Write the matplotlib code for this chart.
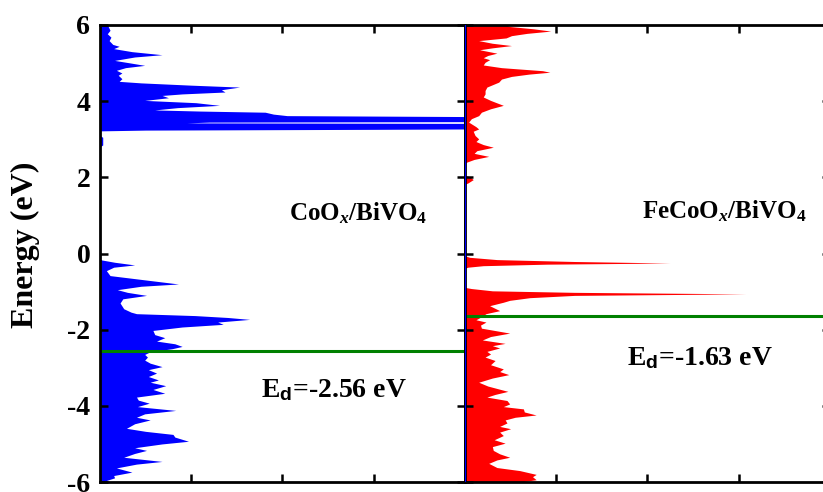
import matplotlib
matplotlib.use('Agg')
import matplotlib.pyplot as plt

plt.rcParams['font.family'] = 'Liberation Serif'
plt.rcParams['font.weight'] = 'bold'
plt.rcParams['mathtext.fontset'] = 'custom'
plt.rcParams['mathtext.rm'] = 'Liberation Serif:bold'
plt.rcParams['mathtext.it'] = 'Liberation Serif:bold:italic'
plt.rcParams['mathtext.sf'] = 'Liberation Sans:bold'
plt.rcParams['axes.unicode_minus'] = False

# CoOx/BiVO4 d-band DOS (energy in eV, dos in arb. units)
co_E = [6.0, 5.96, 5.86, 5.77, 5.68, 5.59, 5.49, 5.44, 5.38, 5.30, 5.22, 5.16, 5.07, 5.00, 4.94,
        4.88, 4.81, 4.74, 4.68, 4.59, 4.52, 4.48, 4.42, 4.37, 4.30, 4.24, 4.19, 4.15, 4.09, 4.02,
        3.96, 3.89, 3.83, 3.77, 3.74, 3.71, 3.66, 3.62, 3.59, 3.56, 3.47, 3.45, 3.43, 3.41, 3.38,
        3.29, 3.26, 3.24, 3.22, 3.10, 3.05, 2.85, 2.80,
        -0.15, -0.17, -0.23, -0.30, -0.36, -0.45, -0.58, -0.68, -0.80, -0.86, -0.95, -1.02, -1.10,
        -1.19, -1.30, -1.45, -1.54, -1.58, -1.63, -1.68, -1.73, -1.80, -1.86, -1.93, -2.02, -2.13,
        -2.21, -2.30, -2.37, -2.44, -2.50, -2.58, -2.65, -2.72, -2.80, -2.88, -2.97, -3.05, -3.14,
        -3.23, -3.32, -3.38, -3.47, -3.57, -3.67, -3.77, -3.85, -3.93, -4.02, -4.12, -4.21, -4.30,
        -4.37, -4.47, -4.59, -4.67, -4.75, -4.82, -4.93, -5.00, -5.10, -5.17, -5.25, -5.35, -5.46,
        -5.53, -5.63, -5.74, -5.83, -5.89, -5.96, -6.0]
co_dos = [0.08, 0.09, 0.11, 0.08, 0.12, 0.10, 0.14, 0.21, 0.15, 0.35, 0.68, 0.38, 0.16, 0.34, 0.49,
          0.28, 0.18, 0.24, 0.20, 0.24, 0.21, 0.45, 1.0, 1.53, 1.33, 1.37, 0.9, 0.68, 0.75, 0.49,
          1.05, 1.31, 0.85, 0.60, 1.1, 1.81, 1.9, 2.05, 4.5, 6, 6, 1.2, 0.95, 5.5, 6,
          6, 3, 0.5, 0.0, 0.0, 0.03, 0.03, 0.0,
          0.0, 0.02, 0.16, 0.38, 0.15, 0.07, 0.11, 0.45, 0.86, 0.45, 0.19, 0.30, 0.51,
          0.25, 0.22, 0.26, 0.34, 0.40, 1.04, 1.4, 1.64, 1.29, 1.35, 0.9, 0.58, 0.60,
          0.71, 0.62, 0.82, 0.90, 0.79, 0.55, 0.49, 0.52, 0.49, 0.55, 0.68, 0.53, 0.62,
          0.53, 0.64, 0.55, 0.72, 0.58, 0.71, 0.40, 0.42, 0.54, 0.41, 0.83, 0.49, 0.40,
          0.55, 0.38, 0.29, 0.50, 0.80, 0.82, 0.97, 0.68, 0.38, 0.51, 0.38, 0.26, 0.68,
          0.40, 0.18, 0.35, 0.15, 0.16, 0.07, 0.03]

# FeCoOx/BiVO4 d-band DOS
fe_E = [6.0, 5.96, 5.90, 5.84, 5.78, 5.72, 5.66, 5.59, 5.52, 5.46, 5.40, 5.35, 5.26, 5.20, 5.14,
        5.09, 5.02, 4.95, 4.88, 4.80, 4.76, 4.71, 4.65, 4.58, 4.50, 4.37, 4.28, 4.19, 4.11, 4.02,
        3.89, 3.80, 3.71, 3.62, 3.54, 3.45, 3.33, 3.27, 3.21, 3.10, 3.01, 2.94, 2.86, 2.79, 2.70,
        2.63, 2.55, 2.47, 2.40, 2.37, 2.05, 2.02, 1.94, 1.85, 1.82,
        -0.06, -0.10, -0.16, -0.21, -0.25, -0.28, -0.32, -0.36, -0.39,
        -0.89, -0.92, -0.98, -1.02, -1.06, -1.10, -1.16, -1.23, -1.28, -1.37, -1.50, -1.58, -1.66,
        -1.74, -1.80, -1.88, -1.96, -2.09, -2.18, -2.27, -2.36, -2.42, -2.48, -2.57, -2.64, -2.72,
        -2.81, -2.92, -3.03, -3.10, -3.18, -3.27, -3.38, -3.48, -3.62, -3.70, -3.77, -3.86, -3.95,
        -4.02, -4.08, -4.16, -4.24, -4.30, -4.37, -4.45, -4.54, -4.60, -4.69, -4.78, -4.89, -4.98,
        -5.07, -5.17, -5.26, -5.35, -5.42, -5.51, -5.62, -5.70, -5.80, -5.86, -5.94, -6.0]
fe_dos = [0.45, 0.49, 0.75, 0.94, 0.68, 0.51, 0.45, 0.15, 0.30, 0.51, 0.30, 0.16, 0.35, 0.25, 0.20,
          0.27, 0.22, 0.20, 0.40, 0.85, 0.93, 0.70, 0.51, 0.40, 0.37, 0.24, 0.22, 0.22, 0.20, 0.28,
          0.42, 0.28, 0.18, 0.15, 0.07, 0.04, 0.12, 0.15, 0.09, 0.11, 0.15, 0.12, 0.20, 0.31, 0.13,
          0.10, 0.26, 0.10, 0.02, 0.0, 0.0, 0.05, 0.09, 0.03, 0.0,
          0.0, 0.05, 0.35, 1.2, 2.25, 0.9, 0.2, 0.03, 0.0,
          0.0, 0.07, 0.3, 1.2, 3.08, 1.2, 0.71, 0.49, 0.42, 0.27, 0.38, 0.23, 0.18,
          0.12, 0.23, 0.17, 0.18, 0.49, 0.28, 0.19, 0.44, 0.30, 0.38, 0.24, 0.28, 0.22,
          0.33, 0.28, 0.42, 0.38, 0.48, 0.30, 0.15, 0.25, 0.47, 0.33, 0.24, 0.46, 0.49,
          0.42, 0.64, 0.65, 0.78, 0.55, 0.44, 0.46, 0.38, 0.50, 0.38, 0.42, 0.32, 0.44,
          0.30, 0.31, 0.38, 0.49, 0.35, 0.26, 0.35, 0.60, 0.78, 0.74, 0.78, 0.60]

# d-band centres
co_ed = -2.56
fe_ed = -1.63

fig = plt.figure(figsize=(8.23, 4.92), dpi=100)
ax1 = fig.add_axes([0.1215, 0.0203, 0.4435, 0.9289])
ax2 = fig.add_axes([0.565, 0.0203, 0.4435, 0.9289])

ax1.fill_betweenx(co_E, 0, co_dos, color='blue', lw=0)
ax1.axhline(co_ed, color='#008000', lw=2.2)
ax1.text(2.07, 0.88, r'CoO$_{\mathit{x}}$/BiVO$_{4}$', fontsize=18, fontweight='bold')
ax1.text(1.76, -3.77, r'E$_{\mathsf{d}}$=-2.56 eV', fontsize=20, fontweight='bold')

ax2.fill_betweenx(fe_E, 0, fe_dos, color='red', lw=0)
ax2.axhline(fe_ed, color='#008000', lw=2.2)
ax2.axvline(0, color='blue', lw=1.5, zorder=5)
ax2.text(1.94, 0.92, r'FeCoO$_{\mathit{x}}$/BiVO$_{4}$', fontsize=18, fontweight='bold')
ax2.text(1.78, -2.94, r'E$_{\mathsf{d}}$=-1.63 eV', fontsize=20, fontweight='bold')

for ax in [ax1, ax2]:
    ax.set_xlim(0, 4)
    ax.set_ylim(-6, 6)
    ax.set_xticks([1, 2, 3])
    ax.set_yticks([-6, -4, -2, 0, 2, 4, 6])
    ax.tick_params(direction='in', length=6, width=1.8, top=True, right=True,
                   labelbottom=False, labelsize=20, pad=7)
    for s in ax.spines.values():
        s.set_linewidth(2)

ax2.tick_params(labelleft=False)
ax1.set_ylabel('Energy (eV)', fontsize=23, fontweight='bold')
ax1.yaxis.set_label_coords(-0.165, 0.52)

plt.savefig('out.png', dpi=100)
